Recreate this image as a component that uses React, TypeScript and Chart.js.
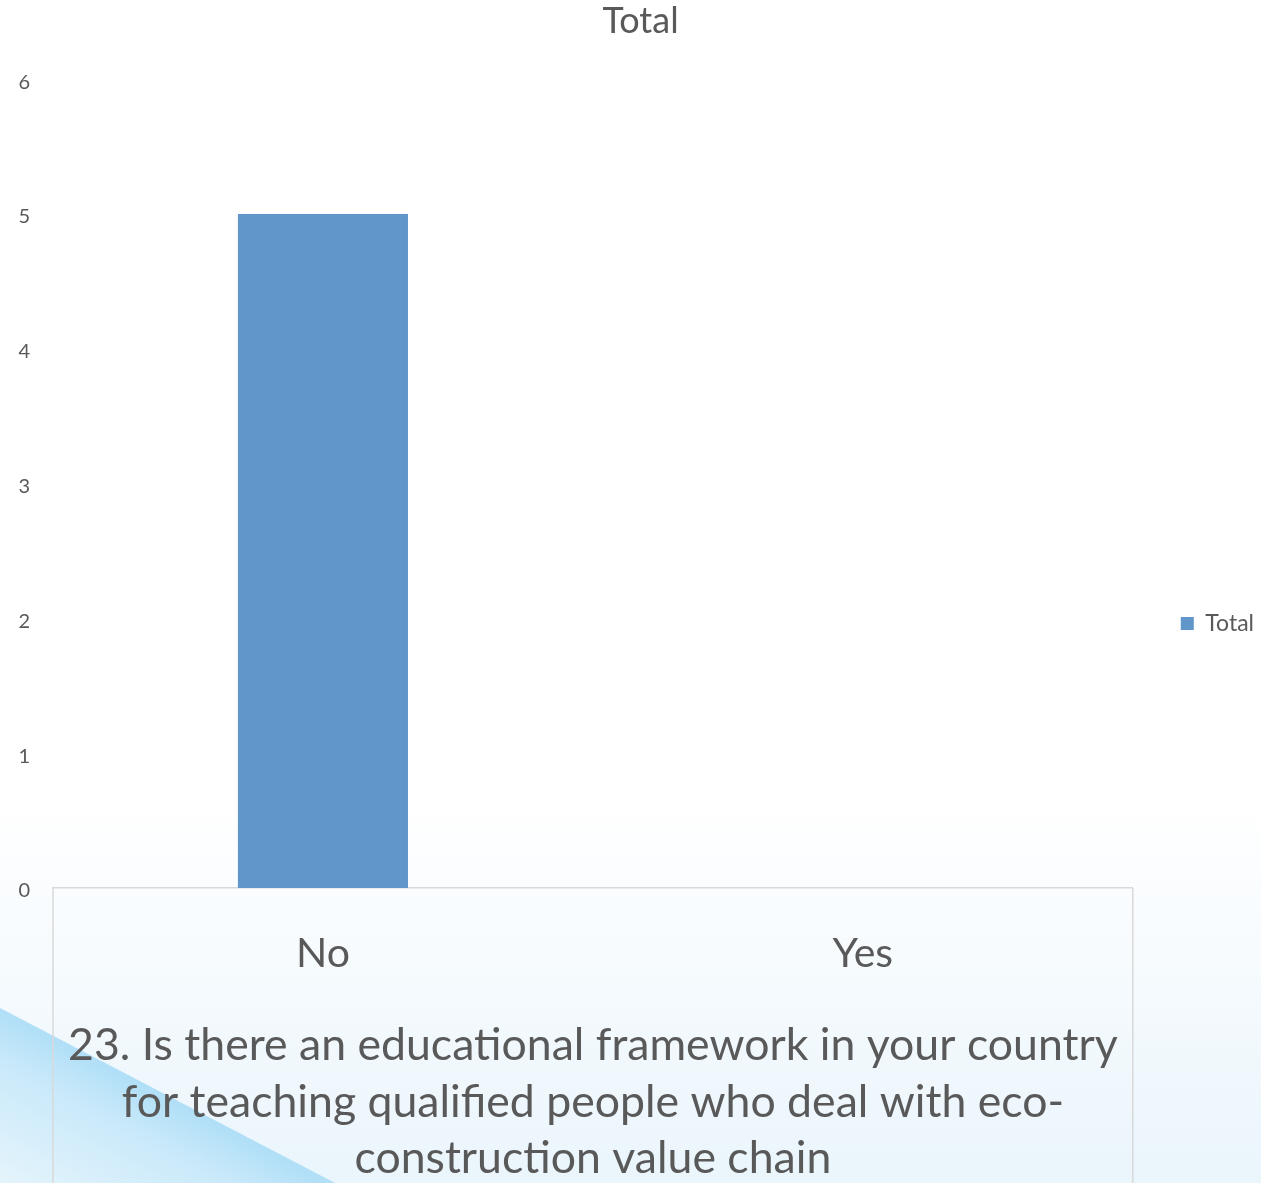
import { useEffect, useRef } from "react";
import { Chart, registerables } from "chart.js";

Chart.register(...registerables);

const categories = ["No", "Yes"];
const seriesName = "Total";
const totals = [5, 0];
const yMin = 0;
const yMax = 6;
const yStep = 1;
const chartTitle = "Total";
const axisTitleLines = [
  "23. Is there an educational framework in your country",
  "for teaching qualified people who deal with eco-",
  "construction value chain",
];

const FONT = "Lato, 'Open Sans', sans-serif";
const TEXT = "#595959";
const BAR = "#6096C9";
const BOX = "#d9d9d9";

const backgroundPlugin = {
  id: "bg",
  beforeDraw(chart: any) {
    const { ctx, width, height } = chart;
    ctx.save();
    ctx.fillStyle = "#ffffff";
    ctx.fillRect(0, 0, width, height);
    const g = ctx.createLinearGradient(0, 800, 0, height);
    g.addColorStop(0, "rgba(234,245,252,0)");
    g.addColorStop(1, "rgba(234,245,252,1)");
    ctx.fillStyle = g;
    ctx.fillRect(0, 800, width, height - 800);
    // swoosh bottom-left
    const sg = ctx.createLinearGradient(165, 1096, 95, 1229);
    sg.addColorStop(0, "#b0dff7");
    sg.addColorStop(0.3, "#c9e9fa");
    sg.addColorStop(1, "#e4f4fc");
    ctx.fillStyle = sg;
    ctx.beginPath();
    ctx.moveTo(0, 1008);
    ctx.lineTo(335, height);
    ctx.lineTo(0, height);
    ctx.closePath();
    ctx.fill();
    ctx.restore();
  },
};

const adjustPlugin = {
  id: "adjust",
  afterLayout(chart: any) {
    if (chart.titleBlock) {
      chart.titleBlock.left += 10;
      chart.titleBlock.right += 10;
    }
    if (chart.legend) {
      chart.legend.top += 64;
      chart.legend.left += 3;
      chart.legend.right += 3;
    }
  },
};

const boxPlugin = {
  id: "axisBox",
  afterDraw(chart: any) {
    const { ctx, chartArea, height } = chart;
    ctx.save();
    ctx.strokeStyle = BOX;
    ctx.lineWidth = 1.5;
    ctx.beginPath();
    ctx.moveTo(chartArea.left, chartArea.bottom);
    ctx.lineTo(chartArea.left, height);
    ctx.moveTo(chartArea.right, chartArea.bottom);
    ctx.lineTo(chartArea.right, height);
    ctx.stroke();
    ctx.restore();
  },
};

export default function App() {
  const ref = useRef<HTMLCanvasElement | null>(null);
  useEffect(() => {
    if (!ref.current) return;
    const chart = new Chart(ref.current, {
      type: "bar",
      data: {
        labels: categories,
        datasets: [
          {
            label: seriesName,
            data: totals,
            backgroundColor: BAR,
            borderWidth: 0,
            categoryPercentage: 1,
            barPercentage: 0.315,
          },
        ],
      },
      options: {
        animation: false,
        responsive: false,
        layout: { padding: 0 },
        plugins: {
          title: {
            display: true,
            text: chartTitle,
            color: TEXT,
            font: { family: FONT, size: 36, weight: "normal" },
            padding: { top: 0, bottom: 36 },
          },
          legend: {
            display: true,
            position: "right",
            labels: {
              color: TEXT,
              font: { family: FONT, size: 23 },
              boxWidth: 13,
              boxHeight: 13,
              padding: 45,
            },
          },
          tooltip: { enabled: false },
        },
        scales: {
          x: {
            grid: { display: false, drawTicks: false },
            border: { display: true, color: BOX, width: 1.5 },
            ticks: {
              color: TEXT,
              font: { family: FONT, size: 41 },
              padding: 41,
            },
            title: {
              display: true,
              text: axisTitleLines,
              color: TEXT,
              font: { family: FONT, size: 44.6, lineHeight: 1.265 },
              padding: { top: 0, bottom: -4 },
            },
            afterFit(s: any) {
              s.height = 295;
            },
          },
          y: {
            min: yMin,
            max: yMax,
            grid: { display: false, drawTicks: false },
            border: { display: false },
            ticks: {
              stepSize: yStep,
              color: TEXT,
              font: { family: FONT, size: 20 },
              padding: 23,
              labelOffset: 3,
            },
            afterFit(s: any) {
              s.width = 53;
            },
          },
        },
      },
      plugins: [backgroundPlugin, adjustPlugin, boxPlugin],
    } as any);
    return () => chart.destroy();
  }, []);
  return (
    <div style={{ position: "absolute", left: 0, top: 0, width: 1261, height: 1183 }}>
      <canvas ref={ref} width={1261} height={1183} style={{ display: "block" }} />
    </div>
  );
}
